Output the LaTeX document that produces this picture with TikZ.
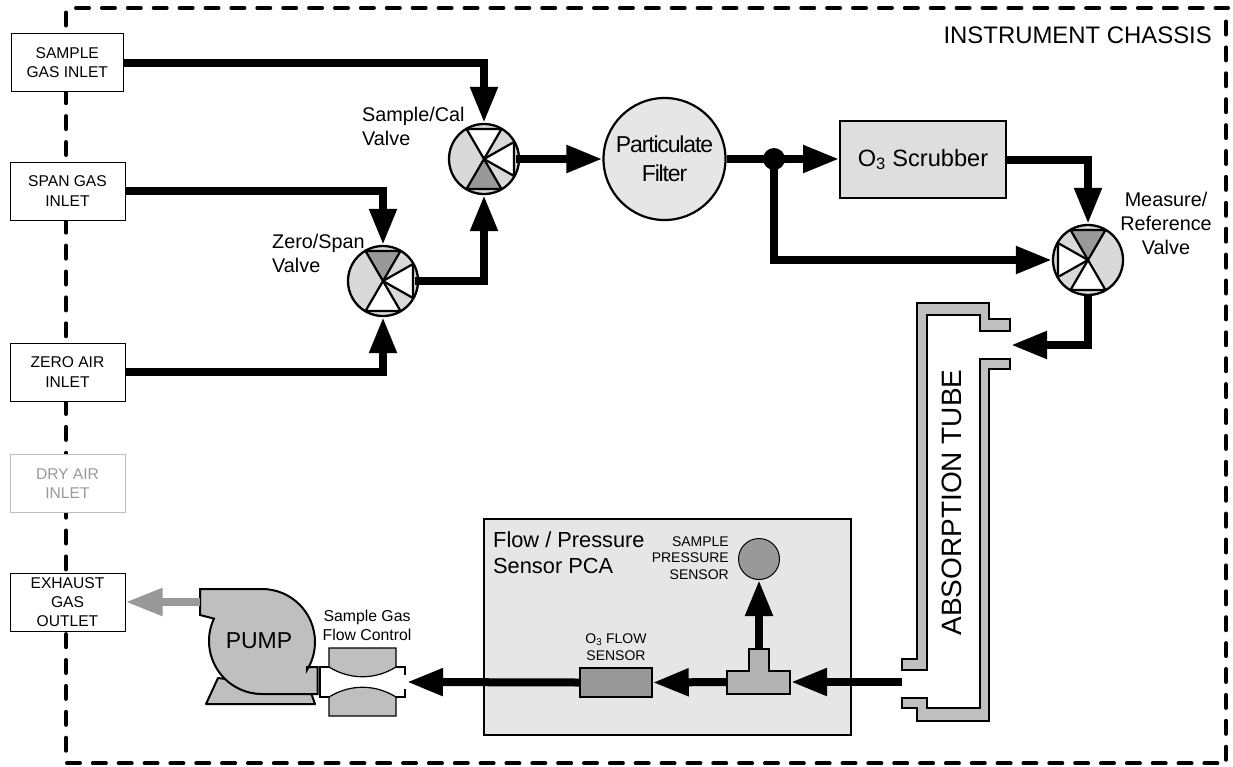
\documentclass[tikz,border=0pt]{standalone}
\usepackage{fontspec}
\setmainfont{Liberation Sans}
\usetikzlibrary{arrows.meta,calc}
\definecolor{lg}{HTML}{D9D9D9}
\definecolor{mg}{HTML}{999999}
\definecolor{pg}{HTML}{BFBFBF}
\definecolor{bg}{HTML}{E6E6E6}
\newcommand{\fs}[2]{\fontsize{#1}{#2}\selectfont}
\tikzset{
 pipe/.style={line width=8pt,draw=black,-{Triangle[length=36pt,width=26pt]}},
 chassisline/.style={line width=4pt,line cap=round,dash pattern=on 13pt off 12.9pt},
 inbox/.style={draw=black,line width=1pt,fill=white,minimum width=115pt,minimum height=58pt,align=center,inner sep=0pt,font=\fs{15.6}{19.3}},
 valvebody/.style={circle,draw=black,line width=2.3pt,fill=lg,minimum size=70pt,inner sep=0pt},
 vline/.style={draw=black,line width=2.2pt,line join=round},
 lab/.style={align=left,inner sep=0pt,font=\fs{19.8}{24.5}},
 tube/.style={draw=black,line width=1.4pt,fill=pg,line join=miter},
 solid2/.style={draw=black,line width=1.8pt},
}
\newcommand{\valve}[6]{%
 \node[valvebody] (#1) at (#2,#3) {};
 \begin{scope}[shift={(#2,#3)},xscale=#4]
  \draw[vline,fill=white] (0,0) -- (30,-17) -- (30,17) -- cycle;
  \draw[vline,fill=#5] (0,0) -- (-17.5,-30) -- (17.5,-30) -- cycle;
  \draw[vline,fill=#6] (0,0) -- (-17.5,30) -- (17.5,30) -- cycle;
 \end{scope}}
\begin{document}
\begin{tikzpicture}[x=1pt,y=-1pt]
\useasboundingbox (0,0) rectangle (1233,766);
% chassis
\draw[chassisline] (66,12.5) -- (66,751);
\draw[chassisline] (76,8) -- (1228,8);
\draw[chassisline] (1226,21.5) -- (1226,760);
\draw[chassisline,dash pattern=on 13pt off 12.85pt] (67,763.3) -- (1218,763.3);
\node[anchor=east,inner sep=0pt,font=\fs{23.9}{26}] (chassis) at (1212,35) {INSTRUMENT CHASSIS};
% inlet boxes
\node[inbox,minimum width=112.5pt] (si) at (67.25,62.5) {SAMPLE\\GAS INLET};
\node[inbox] (sp) at (67.5,191) {SPAN GAS\\INLET};
\node[inbox] (zi) at (67.5,372) {ZERO AIR\\INLET};
\node[inbox,draw=pg,text=mg] (di) at (67.5,483.5) {DRY AIR\\INLET};
\node[inbox] (ex) at (67.5,602) {EXHAUST\\GAS\\OUTLET};
% valves
\valve{sv}{484}{159}{1}{white}{mg}
\valve{zs}{383}{281}{1}{mg}{white}
\valve{mv}{1088}{260}{-1}{mg}{white}
\node[lab,anchor=west] (svl) at (362,126.5) {Sample/Cal\\Valve};
\node[lab,anchor=west] (zsl) at (272,253.5) {Zero/Span\\Valve};
\node[align=center,inner sep=0pt,font=\fs{19.8}{24}] (mvl) at (1166,223) {Measure/\\Reference\\Valve};
% filter and scrubber
\node[circle,draw=black,line width=2.2pt,fill=bg,minimum size=122pt,inner sep=0pt,align=center,font=\fs{23}{29}\addfontfeature{LetterSpace=-5}] (pf) at (664.5,159) {Particulate\\Filter};
\node[draw=black,line width=1.8pt,fill=black!13,minimum width=166pt,minimum height=77pt,inner sep=0pt,font=\fs{23.6}{26}] (sc) at (923,159.5) {O\textsubscript{3} Scrubber};
\node[circle,fill=black,minimum size=22pt,inner sep=0pt] (dot) at (774,159) {};
% absorption tube
\draw[tube] (902,659) -- (917,659) -- (917,303) -- (989,303) -- (989,319) -- (1010,319) -- (1010,331) -- (980,331) -- (980,315) -- (927,315) -- (927,670) -- (902,670) -- cycle;
\draw[tube] (1010,359) -- (980,359) -- (980,708) -- (927,708) -- (927,698) -- (902,698) -- (902,708) -- (917,708) -- (917,721) -- (989,721) -- (989,369) -- (1010,369) -- cycle;
\node[rotate=90,inner sep=0pt,font=\fs{28}{30}] (atl) at (952,502.5) {ABSORPTION TUBE};
\coordinate (tin) at (1011,345);
\coordinate (tout) at (902,682);
% PCA
\node[draw=black,line width=2pt,fill=bg,minimum width=367pt,minimum height=216pt,inner sep=0pt] (pca) at (667.5,627) {};
\node[anchor=west,align=left,inner sep=0pt,font=\fs{21.8}{26}] (pcal) at (493,553) {Flow / Pressure\\Sensor PCA};
\node[circle,draw=black,line width=1pt,fill=mg,minimum size=41pt,inner sep=0pt] (sps) at (759,559) {};
\node[anchor=east,align=right,inner sep=0pt,font=\fs{14}{16.5}] (spsl) at (729,558) {SAMPLE\\PRESSURE\\SENSOR};
\node[draw=black,line width=1.5pt,fill=mg,minimum width=72pt,minimum height=29pt,inner sep=0pt] (ofs) at (616,682.5) {};
\node[align=center,inner sep=0pt,font=\fs{14}{17}] (ofsl) at (616,647.5) {O\textsubscript{3} FLOW\\SENSOR};
% tee
\draw[fill=black!30,solid2] (727,671) -- (749,671) -- (749,649) -- (769,649) -- (769,671) -- (790,671) -- (790,694) -- (727,694) -- cycle;
\coordinate (teeR) at (791,682);
\coordinate (teeL) at (727,682);
\coordinate (teeT) at (759,649);
% flow control
\draw[draw=black,line width=1.2pt,fill=pg] (329,648) -- (396,648) -- (396,667) .. controls (375,680) and (350,680) .. (329,667) -- cycle;
\draw[draw=black,line width=1.2pt,fill=pg] (329,716) -- (396,716) -- (396,697) .. controls (375,684) and (350,684) .. (329,697) -- cycle;
\draw[line width=1.2pt] (396,667) -- (405,667) -- (405,675);
\draw[line width=1.2pt] (396,697) -- (405,697) -- (405,689);
\draw[line width=1.2pt] (329,667) -- (320,667) -- (320,697) -- (329,697);
\coordinate (fcR) at (407,682);
\node[align=center,inner sep=0pt,font=\fs{15.8}{19}] (fcl) at (367,625.5) {Sample Gas\\Flow Control};
% pump
\draw[draw=black,line width=2pt,fill=pg,line join=round] (218,678) -- (206,704) -- (315,704) -- (310,690) -- cycle;
\draw[draw=black,line width=2pt,fill=pg,line join=miter] (200,589) -- (262,589) arc[start angle=-90,end angle=32,radius=53] -- (307,667) -- (317.5,667) -- (317.5,694) -- (262,694) arc[start angle=90,end angle=205,radius=53] -- (200,615) -- cycle;
\node[inner sep=0pt,font=\fs{23}{26}] (pump) at (259,640.5) {PUMP};
\coordinate (pumpL) at (200,602);
% connectors
\draw[pipe] (si.east) -| (sv.north);
\draw[pipe] (sp.east) -| (zs.north);
\draw[pipe] (zi.east) -| (zs.south);
\draw[pipe] ([xshift=-4pt]zs.east) -| (sv.south);
\draw[pipe] ([xshift=-4pt]sv.east) -- (pf.west);
\draw[pipe] (pf.east) -- (pf.east -| sc.west);
\draw[pipe] (sc.east) -| (mv.north);
\draw[pipe] (dot.center) |- (mv.west);
\draw[pipe] (mv.south) |- (tin);
\draw[pipe] (tout) -- (teeR);
\draw[pipe] (teeL) -- (ofs.east);
\draw[pipe] (ofs.west) -- (fcR);
\draw[pipe] (teeT) -- (sps.south);
\draw[pipe,draw=mg,-{Triangle[length=37pt,width=26pt,fill=mg]}] (pumpL) -- (ex.east);
\end{tikzpicture}
\end{document}
